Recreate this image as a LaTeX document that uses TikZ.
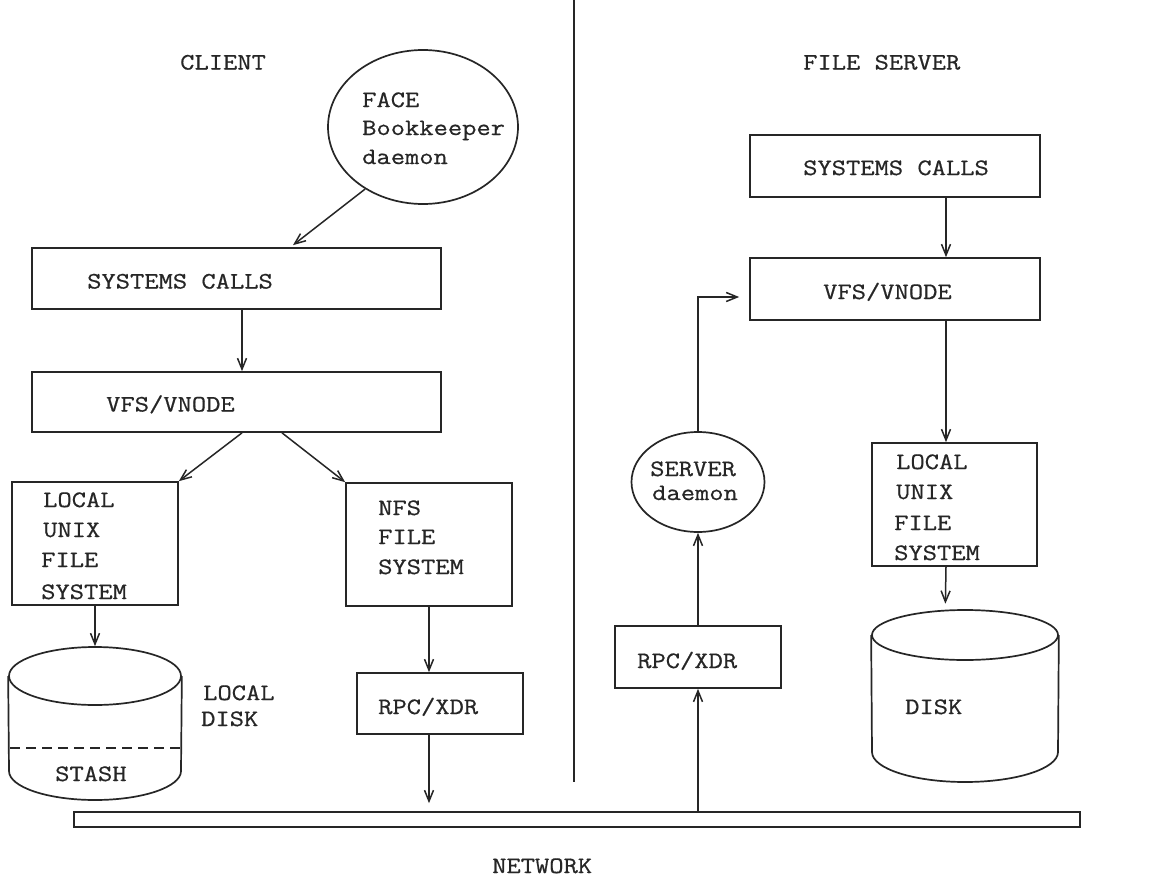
\documentclass[tikz,border=0pt]{standalone}
\usepackage{fontspec}
\newfontfamily\typefont{Latin Modern Mono}[FakeStretch=1.18, FakeBold=0.6]
\usetikzlibrary{arrows.meta,calc,shapes.geometric}

\begin{document}
\begin{tikzpicture}[x=1pt,y=-1pt,
  ink/.style={draw=black!85, line width=1.7pt},
  box/.style={ink, rectangle, inner sep=0pt},
  oval/.style={ink, ellipse, inner sep=0pt},
  arr/.style={draw=black!85, line width=1.5pt,
    -{Straight Barb[length=11pt,width=9pt,line width=1.5pt]}},
  lbl/.style={anchor=base west, inner sep=0pt,
    font=\fontsize{23.5}{29}\typefont, text=black!85},
]
\useasboundingbox[fill=white] (0,0) rectangle (1154,878);

% ---------- client side ----------
\node[oval, minimum width=190pt, minimum height=154pt] (face) at (423,127) {};
\node[box, minimum width=409pt, minimum height=61pt] (csys) at (236.5,278.5) {};
\node[box, minimum width=409pt, minimum height=60pt] (cvfs) at (236.5,402) {};
\node[box, minimum width=166pt, minimum height=123pt] (clocal) at (95,543.5) {};
\node[box, minimum width=166pt, minimum height=123pt] (cnfs) at (429,544.5) {};
\node[box, minimum width=166pt, minimum height=61pt] (crpc) at (440,703.5) {};

% local disk with its stash area
\node[oval, minimum width=172pt, minimum height=58pt] (cdisk) at (95,676) {};
\draw[ink] (cdisk.west) -- (9,771)
  arc[start angle=180, end angle=0, x radius=86, y radius=29] -- (cdisk.east);
\coordinate (stashL) at (10,748);
\coordinate (stashR) at (180,748);
\draw[ink, dash pattern=on 10pt off 6pt] (stashL) -- (stashR);

% ---------- server side ----------
\node[box, minimum width=290pt, minimum height=62pt] (ssys) at (895,166) {};
\node[box, minimum width=290pt, minimum height=62pt] (svfs) at (895,289) {};
\node[oval, minimum width=133pt, minimum height=100pt] (sdaemon) at (698,482) {};
\node[box, minimum width=166pt, minimum height=62pt] (srpc) at (698,657) {};
\node[box, minimum width=165pt, minimum height=123pt] (slocal) at (954.5,504.5) {};

\node[oval, minimum width=186pt, minimum height=50pt] (sdisk) at (965,635) {};
\draw[ink] (sdisk.west) -- (872,752)
  arc[start angle=180, end angle=0, x radius=93, y radius=30] -- (sdisk.east);

% ---------- divider and network ----------
\coordinate (divtop) at (574,0);
\coordinate (divbot) at (574,782);
\draw[ink] (divtop) -- (divbot);
\node[box, minimum width=1006pt, minimum height=15pt] (net) at (577,819.5) {};

% ---------- connectors ----------
\draw[arr] (face.227) -- ($(csys.north)+(56.5,-2)$);
\draw[arr] ($(csys.south)+(5.5,0)$) -- ($(cvfs.north)+(5.5,0)$);
\draw[arr] ($(cvfs.south)+(5.5,0)$) -- (clocal.north east);
\draw[arr] ($(cvfs.south)+(45.5,0)$) -- (cnfs.north west);
\draw[arr] (clocal.south) -- (cdisk.north);
\draw[arr] (cnfs.south) -- (cnfs.south |- crpc.north);
\draw[arr] (cnfs.south |- crpc.south) -- ($(cnfs.south |- net.north)+(0,-8)$);

\coordinate (sdown) at ($(ssys.south)+(51,0)$);
\draw[arr] (sdown) -- (sdown |- svfs.north);
\draw[arr] (sdaemon.north) |- ($(svfs.west)+(-10,8)$);
\draw[arr] (srpc.north) -- (sdaemon.south);
\draw[arr] (srpc.south |- net.north) -- (srpc.south);
\draw[arr] (sdown |- svfs.south) -- (sdown |- slocal.north);
\draw[arr, shorten >=6pt] (sdown |- slocal.south) -- (sdisk.128);

% ---------- labels ----------
\node[lbl] (tclient) at (180,69.5) {CLIENT};
\node[lbl] (tserver) at (803,69.5) {FILE SERVER};
\node[lbl] (tface1) at (362,107) {FACE};
\node[lbl] (tface2) at (362,135) {Bookkeeper};
\node[lbl] (tface3) at (362,164) {daemon};
\node[lbl] (tcsys) at (87,288.5) {SYSTEMS CALLS};
\node[lbl] (tcvfs) at (106,411.5) {VFS/VNODE};
\node[lbl] (tcl1) at (43,507) {LOCAL};
\node[lbl] (tcl2) at (43,537) {UNIX};
\node[lbl] (tcl3) at (41,567) {FILE};
\node[lbl] (tcl4) at (41,599) {SYSTEM};
\node[lbl] (tnfs1) at (378,515) {NFS};
\node[lbl] (tnfs2) at (378,544) {FILE};
\node[lbl] (tnfs3) at (378,574) {SYSTEM};
\node[lbl] (tcrpc) at (378,714) {RPC/XDR};
\node[lbl] (tld1) at (203,700) {LOCAL};
\node[lbl] (tld2) at (201,726) {DISK};
\node[lbl] (tstash) at (55,781) {STASH};

\node[lbl] (tssys) at (803,175) {SYSTEMS CALLS};
\node[lbl] (tsvfs) at (823,299) {VFS/VNODE};
\node[lbl] (tsd1) at (650,476) {SERVER};
\node[lbl] (tsd2) at (652,500) {daemon};
\node[lbl] (tsl1) at (896,469) {LOCAL};
\node[lbl] (tsl2) at (896,499) {UNIX};
\node[lbl] (tsl3) at (894,530) {FILE};
\node[lbl] (tsl4) at (894,560) {SYSTEM};
\node[lbl] (tsrpc) at (637,668) {RPC/XDR};
\node[lbl] (tdisk) at (905,714) {DISK};
\node[lbl] (tnet) at (492,873) {NETWORK};
\end{tikzpicture}
\end{document}
